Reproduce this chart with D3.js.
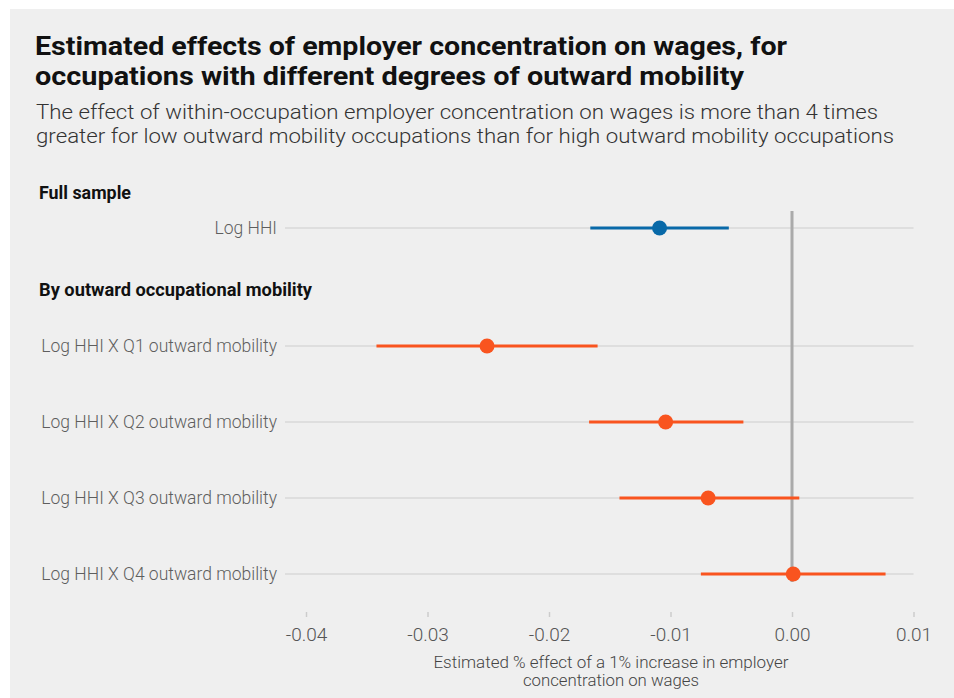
<!DOCTYPE html>
<html>
<head>
<meta charset="utf-8">
<script src="https://cdn.jsdelivr.net/npm/d3@7"></script>
<style>
  html, body { margin: 0; padding: 0; background: #ffffff; }
  svg { display: block; }
</style>
</head>
<body>
<script>
// ---- Data ----
const groups = ["Full sample", "By outward occupational mobility"];
const labels = [
  "Log HHI",
  "Log HHI X Q1 outward mobility",
  "Log HHI X Q2 outward mobility",
  "Log HHI X Q3 outward mobility",
  "Log HHI X Q4 outward mobility"
];
const rowGroup = [0, 1, 1, 1, 1];
const estimates = [-0.0109, -0.0251, -0.0104, -0.0069, 0.0001];
const lower     = [-0.0166, -0.0342, -0.0167, -0.0142, -0.0075];
const upper     = [-0.0052, -0.0160, -0.0040, 0.0006, 0.0077];
const xTicks = [-0.04, -0.03, -0.02, -0.01, 0.00, 0.01];

const title = [
  "Estimated effects of employer concentration on wages, for",
  "occupations with different degrees of outward mobility"
];
const subtitle = [
  "The effect of within-occupation employer concentration on wages is more than 4 times",
  "greater for low outward mobility occupations than for high outward mobility occupations"
];
const xTitle = [
  "Estimated % effect of a 1% increase in employer",
  "concentration on wages"
];

// ---- Layout ----
const W = 954, H = 698;
const colors = ["#0869a8", "#f9541f"];
const FONT = "Roboto, 'Noto Sans', sans-serif";

const svg = d3.select("body").append("svg")
  .attr("width", W).attr("height", H);

svg.append("rect")
  .attr("x", 10).attr("y", 9).attr("width", W - 10).attr("height", H - 9)
  .attr("fill", "#efefef");

// Title
const titleWidths = [752, 709];
svg.append("g").selectAll("text").data(title).join("text")
  .attr("x", 35).attr("y", (d, i) => 55 + i * 30)
  .attr("font-family", FONT).attr("font-weight", 700).attr("font-size", 26)
  .attr("fill", "#111")
  .attr("textLength", (d, i) => titleWidths[i])
  .attr("lengthAdjust", "spacingAndGlyphs")
  .text(d => d);

const subWidths = [842, 858];
svg.append("g").selectAll("text").data(subtitle).join("text")
  .attr("x", 36).attr("y", (d, i) => 119 + i * 24)
  .attr("font-family", FONT).attr("font-weight", 300).attr("font-size", 21)
  .attr("fill", "#333")
  .attr("textLength", (d, i) => subWidths[i])
  .attr("lengthAdjust", "spacingAndGlyphs")
  .text(d => d);

// Scales
const x = d3.scaleLinear().domain([-0.04, 0.01]).range([306, 913.5]);
const rowStep = 76, groupGap = 42, firstRow = 228;
const yIdx = d3.scaleLinear().domain([0, 1]).range([firstRow, firstRow + rowStep]);
const yRow = i => yIdx(i) + (rowGroup[i] > 0 ? groupGap : 0);

const rows = labels.map((l, i) => ({
  label: l, est: estimates[i], lo: lower[i], hi: upper[i], g: rowGroup[i], y: yRow(i)
}));

// Group headings
const headWidths = [92, 273];
const headY = [199, 296];
svg.append("g").selectAll("text").data(groups).join("text")
  .attr("x", 39).attr("y", (d, i) => headY[i])
  .attr("font-family", FONT).attr("font-weight", 700).attr("font-size", 18)
  .attr("fill", "#111")
  .attr("textLength", (d, i) => headWidths[i])
  .attr("lengthAdjust", "spacingAndGlyphs")
  .text(d => d);

// Gridlines
svg.append("g").selectAll("line").data(rows).join("line")
  .attr("x1", 285).attr("x2", x(0.01))
  .attr("y1", d => d.y).attr("y2", d => d.y)
  .attr("stroke", "#dedede").attr("stroke-width", 2);

// Row labels
svg.append("g").selectAll("text").data(rows).join("text")
  .attr("x", 277).attr("y", d => d.y)
  .attr("dy", "0.35em")
  .attr("text-anchor", "end")
  .attr("font-family", FONT).attr("font-weight", 300).attr("font-size", 17.5)
  .attr("fill", "#5e5e5e")
  .text(d => d.label);

// Zero line
svg.append("line")
  .attr("x1", x(0)).attr("x2", x(0))
  .attr("y1", 211).attr("y2", 582)
  .attr("stroke", "#aaaaaa").attr("stroke-width", 3);

// Confidence intervals
svg.append("g").selectAll("line").data(rows).join("line")
  .attr("x1", d => x(d.lo)).attr("x2", d => x(d.hi))
  .attr("y1", d => d.y).attr("y2", d => d.y)
  .attr("stroke", d => colors[d.g]).attr("stroke-width", 3);

// Points
svg.append("g").selectAll("circle").data(rows).join("circle")
  .attr("cx", d => x(d.est)).attr("cy", d => d.y).attr("r", 7.5)
  .attr("fill", d => colors[d.g]);

// X axis
const axis = svg.append("g")
  .attr("transform", "translate(0,612)")
  .call(d3.axisBottom(x).tickValues(xTicks).tickSize(5).tickPadding(11)
    .tickFormat(d => d.toFixed(2)));
axis.select(".domain").remove();
axis.selectAll(".tick line").attr("stroke", "#cccccc").attr("stroke-width", 1.5);
axis.selectAll(".tick text")
  .attr("font-family", FONT).attr("font-weight", 300).attr("font-size", 19)
  .attr("fill", "#555");

// X axis title
const xTitleWidths = [355, 176];
svg.append("g").selectAll("text").data(xTitle).join("text")
  .attr("x", x(-0.0149)).attr("y", (d, i) => 668 + i * 18)
  .attr("text-anchor", "middle")
  .attr("font-family", FONT).attr("font-weight", 300).attr("font-size", 16)
  .attr("fill", "#444")
  .attr("textLength", (d, i) => xTitleWidths[i])
  .attr("lengthAdjust", "spacingAndGlyphs")
  .text(d => d);
</script>
</body>
</html>
